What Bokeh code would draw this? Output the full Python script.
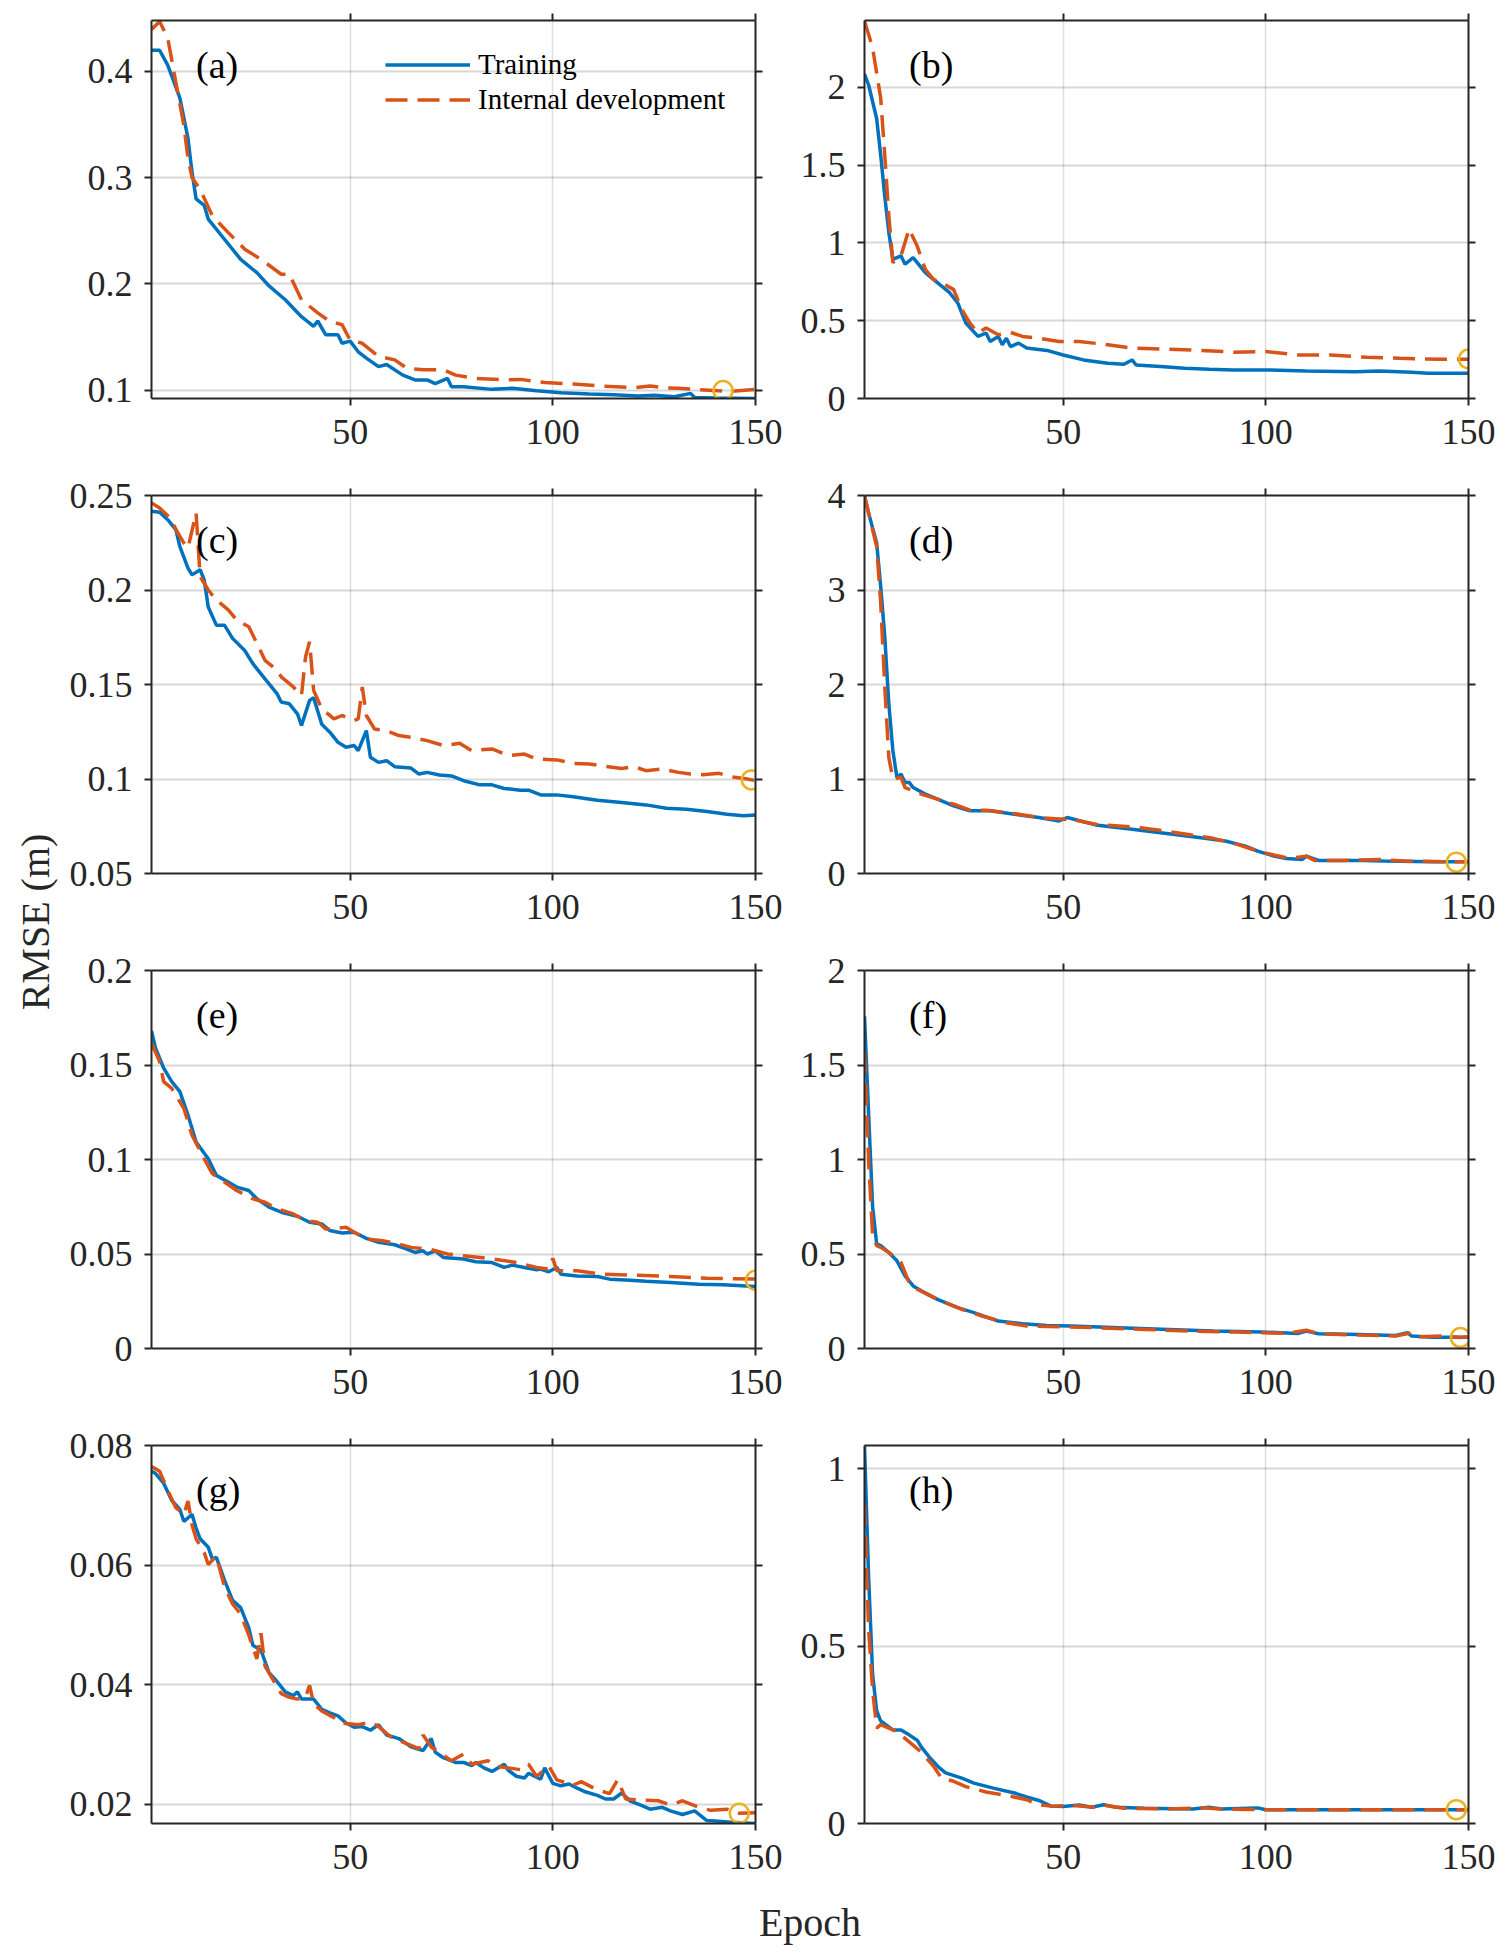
import math
from bokeh.plotting import figure
from bokeh.layouts import gridplot, row, column
from bokeh.models import Range1d, FixedTicker, LinearAxis, Legend, LegendItem
from bokeh.core.properties import value
from bokeh.embed import file_html
from bokeh.resources import INLINE

# ---- data (epoch, RMSE in m) ----
# (a)
a_train_ep = [1, 3, 5, 8, 10, 11, 12, 14, 15, 19, 23, 27, 30, 34, 38, 41, 42, 44, 47, 48, 50, 52, 54, 57, 59, 63,
              66, 69, 71, 74, 75, 78, 85, 90, 96, 102, 109, 115, 121, 125, 130, 134, 135, 140, 150]
a_train = [0.420, 0.420, 0.406, 0.375, 0.337, 0.305, 0.280, 0.274, 0.261, 0.242, 0.223, 0.2105, 0.198, 0.185,
           0.169, 0.160, 0.165, 0.152, 0.152, 0.144, 0.146, 0.136, 0.130, 0.122, 0.124, 0.114, 0.1095, 0.1095,
           0.106, 0.111, 0.103, 0.103, 0.1006, 0.1016, 0.0994, 0.0975, 0.0962, 0.0956, 0.0943, 0.095, 0.0937,
           0.0968, 0.093, 0.0924, 0.0921]
a_dev_ep = [1, 3, 5, 7, 9, 10, 11, 13, 16, 20, 24, 28, 33, 35, 38, 42, 45, 48, 50, 53, 57, 61, 64, 68, 73, 76,
            81, 88, 92, 98, 105, 112, 120, 124, 127, 131, 135, 142, 145, 150]
a_dev = [0.4395, 0.447, 0.4316, 0.390, 0.349, 0.318, 0.300, 0.289, 0.264, 0.248, 0.2326, 0.2231, 0.209, 0.209,
         0.185, 0.1726, 0.1647, 0.1616, 0.147, 0.144, 0.1316, 0.1284, 0.1205, 0.119, 0.119, 0.114, 0.111, 0.1095,
         0.110, 0.107, 0.1057, 0.1038, 0.1022, 0.1038, 0.1022, 0.1016, 0.1006, 0.099, 0.099, 0.1006]

# (b)
b_train_ep = [1, 2, 4, 5, 6, 7, 8, 10, 11, 13, 14, 16, 18, 22, 24, 26, 29, 31, 32, 34, 35, 36, 37, 39, 41, 46,
              50, 55, 61, 65, 67, 68, 74, 80, 86, 92, 101, 110, 122, 128, 136, 140, 150]
b_train = [2.086, 2.017, 1.80, 1.564, 1.30, 1.068, 0.895, 0.917, 0.863, 0.906, 0.874, 0.809, 0.766, 0.68, 0.615,
           0.485, 0.399, 0.421, 0.367, 0.399, 0.345, 0.388, 0.334, 0.356, 0.324, 0.309, 0.28, 0.248, 0.227, 0.22,
           0.248, 0.216, 0.205, 0.194, 0.188, 0.183, 0.183, 0.177, 0.1726, 0.177, 0.168, 0.162, 0.162]
b_dev_ep = [1, 3, 5, 6, 7, 8, 10, 12, 14, 16, 18, 20, 23, 25, 27, 29, 31, 34, 37, 40, 44, 49, 54, 61, 67, 76,
            84, 92, 100, 108, 116, 125, 133, 143, 150]
b_dev = [2.427, 2.255, 1.93, 1.564, 1.176, 0.874, 0.917, 1.09, 0.98, 0.83, 0.766, 0.744, 0.70, 0.572, 0.485,
         0.421, 0.453, 0.41, 0.425, 0.399, 0.388, 0.367, 0.367, 0.345, 0.324, 0.317, 0.309, 0.298, 0.302, 0.28,
         0.28, 0.265, 0.259, 0.252, 0.252]

# (c)
c_train_ep = [1, 3, 5, 7, 8, 10, 11, 13, 14, 15, 17, 19, 21, 24, 26, 29, 32, 33, 35, 37, 38, 40, 41, 43, 45, 47,
              49, 51, 52, 54, 55, 57, 59, 61, 65, 67, 69, 72, 75, 78, 82, 85, 88, 92, 94, 97, 101, 105, 111, 117,
              123, 128, 133, 138, 143, 147, 150]
c_train = [0.2417, 0.2411, 0.2372, 0.232, 0.223, 0.2116, 0.208, 0.2107, 0.2054, 0.191, 0.1814, 0.1814, 0.1744,
           0.168, 0.161, 0.153, 0.145, 0.1407, 0.1398, 0.1345, 0.1283, 0.1416, 0.143, 0.129, 0.1248, 0.1194,
           0.1168, 0.1177, 0.115, 0.1256, 0.1115, 0.1088, 0.1097, 0.1065, 0.1058, 0.1026, 0.1035, 0.1021, 0.1016,
           0.0991, 0.0969, 0.0969, 0.095, 0.0941, 0.0941, 0.0916, 0.0916, 0.0906, 0.0888, 0.0876, 0.0863, 0.0845,
           0.084, 0.0828, 0.0814, 0.0805, 0.081]
c_dev_ep = [1, 3, 6, 7, 9, 10, 12, 13, 15, 17, 20, 22, 25, 27, 29, 32, 33, 36, 38, 39, 40, 41, 43, 46, 48, 51,
            52, 53, 54, 56, 59, 62, 65, 69, 73, 77, 80, 85, 89, 93, 96, 101, 105, 109, 112, 117, 120, 123, 127,
            131, 134, 137, 141, 144, 148, 150]
c_dev = [0.2461, 0.2434, 0.2372, 0.232, 0.2248, 0.2222, 0.2408, 0.2071, 0.200, 0.1947, 0.1894, 0.1841, 0.1806,
         0.1717, 0.1628, 0.1575, 0.154, 0.1487, 0.1442, 0.1646, 0.1726, 0.1469, 0.1372, 0.1318, 0.1336, 0.131,
         0.1318, 0.1487, 0.1336, 0.1265, 0.1256, 0.123, 0.1221, 0.1203, 0.1177, 0.1189, 0.115, 0.1159, 0.1124,
         0.1132, 0.1106, 0.1101, 0.1083, 0.1079, 0.107, 0.1056, 0.1065, 0.1044, 0.1053, 0.1035, 0.1026, 0.1023,
         0.103, 0.1012, 0.100, 0.0991]

# (d)
d_train_ep = [1, 2, 4, 5, 6, 7, 8, 9, 10, 11, 12, 13, 16, 19, 23, 27, 32, 38, 44, 49, 51, 58, 67, 77, 84, 90, 95,
              98, 102, 105, 109, 110, 113, 117, 124, 129, 141, 150]
d_train = [4.0, 3.816, 3.497, 3.036, 2.505, 1.796, 1.30, 1.017, 1.052, 0.964, 0.964, 0.91, 0.84, 0.787, 0.716,
           0.663, 0.663, 0.627, 0.592, 0.556, 0.592, 0.514, 0.468, 0.415, 0.379, 0.344, 0.29, 0.237, 0.184, 0.159,
           0.149, 0.184, 0.138, 0.138, 0.138, 0.131, 0.124, 0.124]
d_dev_ep = [1, 2, 4, 5, 6, 7, 8, 10, 11, 13, 15, 19, 23, 27, 31, 38, 44, 50, 52, 58, 69, 78, 87, 93, 98, 102,
            106, 110, 112, 119, 128, 134, 147, 150]
d_dev = [3.993, 3.816, 3.46, 2.86, 1.973, 1.229, 0.999, 1.017, 0.91, 0.875, 0.84, 0.787, 0.733, 0.67, 0.67,
         0.634, 0.592, 0.574, 0.574, 0.521, 0.485, 0.432, 0.372, 0.308, 0.237, 0.195, 0.159, 0.184, 0.138, 0.138,
         0.149, 0.131, 0.124, 0.124]

# (e)
e_train_ep = [1, 2, 4, 6, 8, 10, 12, 15, 17, 20, 22, 25, 27, 30, 33, 37, 40, 43, 45, 48, 51, 54, 57, 61, 64, 66,
              68, 69, 71, 73, 78, 81, 85, 88, 90, 93, 96, 97, 99, 101, 102, 106, 111, 114, 118, 123, 129, 136, 142,
              150]
e_train = [0.1681, 0.1589, 0.1483, 0.1412, 0.1359, 0.1235, 0.1093, 0.1004, 0.0916, 0.088, 0.0854, 0.0836, 0.0792,
           0.0748, 0.0721, 0.070, 0.0668, 0.0659, 0.0624, 0.0611, 0.0615, 0.0583, 0.0562, 0.0549, 0.0526, 0.0508,
           0.0517, 0.050, 0.0517, 0.0482, 0.0473, 0.0459, 0.0455, 0.0429, 0.0441, 0.0429, 0.0416, 0.042, 0.0406,
           0.0429, 0.0393, 0.0384, 0.0381, 0.0367, 0.0363, 0.0356, 0.0349, 0.034, 0.0337, 0.0328]
e_dev_ep = [1, 3, 4, 6, 9, 11, 14, 16, 19, 22, 26, 29, 32, 36, 39, 42, 44, 49, 51, 54, 58, 62, 65, 70, 74, 78,
            84, 91, 96, 99, 100, 101, 106, 112, 121, 129, 138, 150]
e_dev = [0.1616, 0.1518, 0.1412, 0.1376, 0.127, 0.1128, 0.1004, 0.0925, 0.088, 0.0836, 0.0792, 0.0774, 0.0739,
         0.0712, 0.0677, 0.0668, 0.0632, 0.0641, 0.0615, 0.0579, 0.057, 0.0553, 0.0535, 0.0523, 0.050, 0.0491,
         0.0477, 0.0455, 0.0429, 0.042, 0.0477, 0.0411, 0.0411, 0.0393, 0.0388, 0.0381, 0.0372, 0.0367]

# (f)
f_train_ep = [1, 2, 3, 4, 5, 7, 9, 11, 13, 15, 19, 24, 28, 34, 40, 46, 52, 64, 76, 87, 99, 108, 110, 113, 123,
              132, 135, 136, 141, 150]
f_train = [1.757, 1.25, 0.75, 0.553, 0.544, 0.508, 0.464, 0.384, 0.331, 0.305, 0.26, 0.216, 0.19, 0.145, 0.131,
           0.122, 0.119, 0.11, 0.101, 0.092, 0.087, 0.08, 0.092, 0.078, 0.074, 0.069, 0.083, 0.066, 0.06, 0.06]
f_dev_ep = [1, 2, 3, 4, 5, 7, 10, 12, 14, 19, 25, 30, 36, 41, 49, 58, 70, 82, 93, 105, 110, 113, 123, 132, 136,
            138, 144, 148, 150]
f_dev = [1.571, 1.0, 0.597, 0.544, 0.535, 0.508, 0.455, 0.349, 0.314, 0.26, 0.207, 0.172, 0.136, 0.119, 0.115,
         0.11, 0.101, 0.092, 0.087, 0.08, 0.097, 0.078, 0.071, 0.066, 0.083, 0.062, 0.066, 0.058, 0.062]

# (g)
g_train_ep = [1, 2, 4, 6, 8, 9, 11, 12, 13, 15, 16, 17, 19, 21, 23, 25, 26, 27, 28, 30, 32, 34, 36, 37, 38, 41,
              43, 45, 47, 49, 51, 53, 55, 57, 59, 62, 64, 65, 68, 70, 71, 73, 76, 78, 80, 81, 83, 85, 88, 89, 91,
              93, 94, 97, 98, 100, 102, 104, 106, 108, 111, 113, 115, 117, 119, 122, 124, 127, 129, 132, 135, 138,
              140, 144, 150]
g_train = [0.0757, 0.0753, 0.0737, 0.0708, 0.0693, 0.0673, 0.0685, 0.0662, 0.0644, 0.063, 0.061, 0.0613, 0.0575,
           0.0541, 0.0529, 0.0495, 0.0466, 0.0462, 0.0458, 0.042, 0.0405, 0.0388, 0.0382, 0.0388, 0.0376, 0.0376,
           0.0359, 0.0353, 0.0348, 0.0336, 0.0329, 0.033, 0.0324, 0.0333, 0.0316, 0.031, 0.0301, 0.0296, 0.029,
           0.031, 0.0287, 0.0278, 0.027, 0.027, 0.0265, 0.027, 0.0261, 0.0255, 0.0267, 0.0257, 0.0247, 0.0244,
           0.0252, 0.0242, 0.0261, 0.0235, 0.0231, 0.0234, 0.0227, 0.0221, 0.0215, 0.0209, 0.0209, 0.0219,
           0.0206, 0.0198, 0.0192, 0.0195, 0.0189, 0.0183, 0.0189, 0.0173, 0.0172, 0.017, 0.0168]
g_dev_ep = [1, 3, 5, 7, 9, 10, 11, 12, 14, 15, 17, 19, 21, 23, 25, 27, 28, 29, 31, 33, 35, 37, 39, 40, 41, 43,
            46, 48, 52, 55, 57, 60, 63, 67, 68, 70, 72, 75, 78, 80, 84, 86, 89, 92, 94, 96, 99, 101, 105, 107,
            111, 114, 116, 118, 122, 126, 129, 132, 136, 139, 143, 146, 150]
g_dev = [0.0765, 0.0757, 0.0725, 0.0696, 0.0685, 0.0707, 0.0667, 0.0644, 0.0621, 0.0601, 0.0615, 0.0564, 0.0535,
         0.0518, 0.0483, 0.0443, 0.0486, 0.0431, 0.0408, 0.0385, 0.0379, 0.0376, 0.0379, 0.0399, 0.0368, 0.0356,
         0.0345, 0.0336, 0.0333, 0.0338, 0.033, 0.0313, 0.0304, 0.0293, 0.0316, 0.0296, 0.0287, 0.0273, 0.0284,
         0.0267, 0.0273, 0.0264, 0.0261, 0.0258, 0.0267, 0.0247, 0.0264, 0.0241, 0.0232, 0.0238, 0.0224, 0.0218,
         0.0241, 0.0209, 0.0207, 0.0206, 0.0199, 0.0206, 0.0195, 0.019, 0.0192, 0.0185, 0.0186]

# (h)
h_train_ep = [1, 2, 3, 4, 5, 8, 10, 12, 14, 15, 17, 19, 21, 25, 28, 33, 38, 41, 44, 47, 50, 54, 57, 60, 63, 70,
              82, 86, 89, 98, 100, 117, 150]
h_train = [1.066, 0.70, 0.42, 0.318, 0.289, 0.264, 0.264, 0.25, 0.235, 0.216, 0.187, 0.162, 0.143, 0.128, 0.114,
           0.099, 0.086, 0.075, 0.065, 0.049, 0.048, 0.052, 0.046, 0.053, 0.046, 0.043, 0.041, 0.046, 0.041,
           0.044, 0.039, 0.039, 0.039]
h_dev_ep = [1, 2, 3, 4, 5, 8, 9, 11, 13, 15, 18, 20, 23, 26, 31, 37, 41, 44, 47, 52, 58, 60, 65, 76, 85, 89, 99,
            150]
h_dev = [0.901, 0.551, 0.376, 0.269, 0.279, 0.264, 0.259, 0.24, 0.221, 0.201, 0.162, 0.128, 0.119, 0.104, 0.089,
         0.077, 0.067, 0.053, 0.049, 0.051, 0.046, 0.052, 0.043, 0.041, 0.044, 0.041, 0.039, 0.039]

panel_names = ["(a)", "(b)", "(c)", "(d)", "(e)", "(f)", "(g)", "(h)"]
y_limits = [(0.092, 0.448), (0, 2.43), (0.05, 0.25), (0, 4), (0, 0.2), (0, 2), (0.0168, 0.08), (0, 1.066)]
y_ticks = [[0.1, 0.2, 0.3, 0.4], [0, 0.5, 1, 1.5, 2], [0.05, 0.1, 0.15, 0.2, 0.25], [0, 1, 2, 3, 4],
           [0, 0.05, 0.1, 0.15, 0.2], [0, 0.5, 1, 1.5, 2], [0.02, 0.04, 0.06, 0.08], [0, 0.5, 1]]
x_ticks = [50, 100, 150]
best_ep = [142, 150, 149, 147, 150, 148, 146, 147]
best_val = [0.0995, 0.254, 0.0995, 0.12, 0.0361, 0.058, 0.0185, 0.039]

train_eps = [a_train_ep, b_train_ep, c_train_ep, d_train_ep, e_train_ep, f_train_ep, g_train_ep, h_train_ep]
trains = [a_train, b_train, c_train, d_train, e_train, f_train, g_train, h_train]
dev_eps = [a_dev_ep, b_dev_ep, c_dev_ep, d_dev_ep, e_dev_ep, f_dev_ep, g_dev_ep, h_dev_ep]
devs = [a_dev, b_dev, c_dev, d_dev, e_dev, f_dev, g_dev, h_dev]

# ---- layout ----
BLUE = "#0072BD"
ORANGE = "#D95319"
YELLOW = "#EDB120"
AX = "#262626"
FONT = "Liberation Serif"

FW, FH = 604, 378
LAB_W = 58          # strip holding the shared y label
BL_LEFT, BL_RIGHT = 93, 79
BR = 30
TOP_FIRST, TOP_REST = 20, 35
BOTTOM = 62


def style_axis(ax, show_labels=True):
    ax.axis_line_color = AX
    ax.axis_line_width = 2
    ax.major_tick_line_color = AX
    ax.major_tick_line_width = 2
    ax.major_tick_in = 0
    ax.major_tick_out = 7
    ax.minor_tick_line_color = None
    ax.major_label_text_font = FONT
    if show_labels:
        ax.major_label_text_font_size = "36px"
        ax.major_label_text_color = AX
    else:
        # mirrored ticks only (MATLAB box), labels not drawn
        ax.major_label_text_font_size = "1px"
        ax.major_label_text_color = None
        ax.major_label_standoff = 0


figs = []
for i in range(8):
    left_col = (i % 2 == 0)
    bt = TOP_FIRST if i < 2 else TOP_REST
    bl = BL_LEFT if left_col else BL_RIGHT
    y0, y1 = y_limits[i]
    p = figure(width=bl + FW + BR, height=bt + FH + BOTTOM,
               x_range=Range1d(1, 150), y_range=Range1d(y0, y1),
               min_border_left=bl, min_border_right=BR, min_border_top=bt, min_border_bottom=BOTTOM,
               output_backend="svg", toolbar_location=None,
               background_fill_color="white", border_fill_color="white")
    p.outline_line_color = None

    p.xaxis.ticker = FixedTicker(ticks=x_ticks, minor_ticks=[])
    p.yaxis.ticker = FixedTicker(ticks=y_ticks[i], minor_ticks=[])
    p.yaxis.major_label_overrides = {t: f"{t:g}" for t in y_ticks[i]}
    style_axis(p.xaxis[0])
    style_axis(p.yaxis[0])
    p.xaxis.major_label_standoff = 14
    p.yaxis.major_label_standoff = 12

    top_ax = LinearAxis(ticker=FixedTicker(ticks=x_ticks, minor_ticks=[]))
    right_ax = LinearAxis(ticker=FixedTicker(ticks=y_ticks[i], minor_ticks=[]))
    style_axis(top_ax, False)
    style_axis(right_ax, False)
    p.add_layout(top_ax, "above")
    p.add_layout(right_ax, "right")

    p.xgrid.grid_line_color = AX
    p.xgrid.grid_line_alpha = 0.15
    p.xgrid.grid_line_width = 1.5
    p.ygrid.grid_line_color = AX
    p.ygrid.grid_line_alpha = 0.18
    p.ygrid.grid_line_width = 2

    r_tr = p.line(train_eps[i], trains[i], line_color=BLUE, line_width=3.5)
    r_dv = p.line(dev_eps[i], devs[i], line_color=ORANGE, line_width=3.5, line_dash="22 10")
    p.scatter([best_ep[i]], [best_val[i]], marker="circle", size=19, fill_color=None,
              line_color=YELLOW, line_width=2.5)

    p.text(x=[12], y=[y1 - 0.117 * (y1 - y0)], text=[panel_names[i]], text_align="left",
           text_baseline="middle", text_font=value(FONT), text_font_size="38px", text_color="black")

    if i == 0:
        leg = Legend(items=[LegendItem(label="Training", renderers=[r_tr]),
                            LegendItem(label="Internal development", renderers=[r_dv])],
                     location=(234, 281))
        leg.padding = 0
        leg.margin = 0
        leg.spacing = 0
        leg.glyph_width = 85
        leg.glyph_height = 35
        leg.label_height = 35
        leg.label_standoff = 8
        leg.label_text_font = FONT
        leg.label_text_font_size = "29px"
        leg.label_text_color = "black"
        leg.border_line_alpha = 0
        leg.background_fill_alpha = 0
        p.add_layout(leg)
    figs.append(p)

grid = gridplot([[figs[0], figs[1]], [figs[2], figs[3]], [figs[4], figs[5]], [figs[6], figs[7]]],
                toolbar_location=None)

row1_h = TOP_FIRST + FH + BOTTOM
row_h = TOP_REST + FH + BOTTOM
grid_h = row1_h + 3 * row_h
frames_top = TOP_FIRST
frames_bottom = row1_h + 2 * row_h + TOP_REST + FH

ylab = figure(width=LAB_W, height=grid_h, x_range=Range1d(0, LAB_W), y_range=Range1d(grid_h, 0),
              x_axis_type=None, y_axis_type=None, min_border=0, output_backend="svg",
              toolbar_location=None)
ylab.outline_line_color = None
ylab.text(x=[35], y=[(frames_top + frames_bottom) / 2], text=["RMSE (m)"], angle=math.pi / 2,
          text_align="center", text_baseline="middle", text_font=value(FONT),
          text_font_size="40px", text_color=AX)

total_w = LAB_W + (BL_LEFT + FW + BR) + (BL_RIGHT + FW + BR)
xlab_h = 70
xlab = figure(width=total_w, height=xlab_h, x_range=Range1d(0, total_w), y_range=Range1d(xlab_h, 0),
              x_axis_type=None, y_axis_type=None, min_border=0, output_backend="svg",
              toolbar_location=None)
xlab.outline_line_color = None
left_frame_x = LAB_W + BL_LEFT
right_frame_end = LAB_W + BL_LEFT + FW + BR + BL_RIGHT + FW
xlab.text(x=[(left_frame_x + right_frame_end) / 2], y=[37], text=["Epoch"], text_align="center",
          text_baseline="middle", text_font=value(FONT), text_font_size="40px", text_color=AX)

page = column(row(ylab, grid), xlab)

open("out.html", "w").write(file_html(page, INLINE))
